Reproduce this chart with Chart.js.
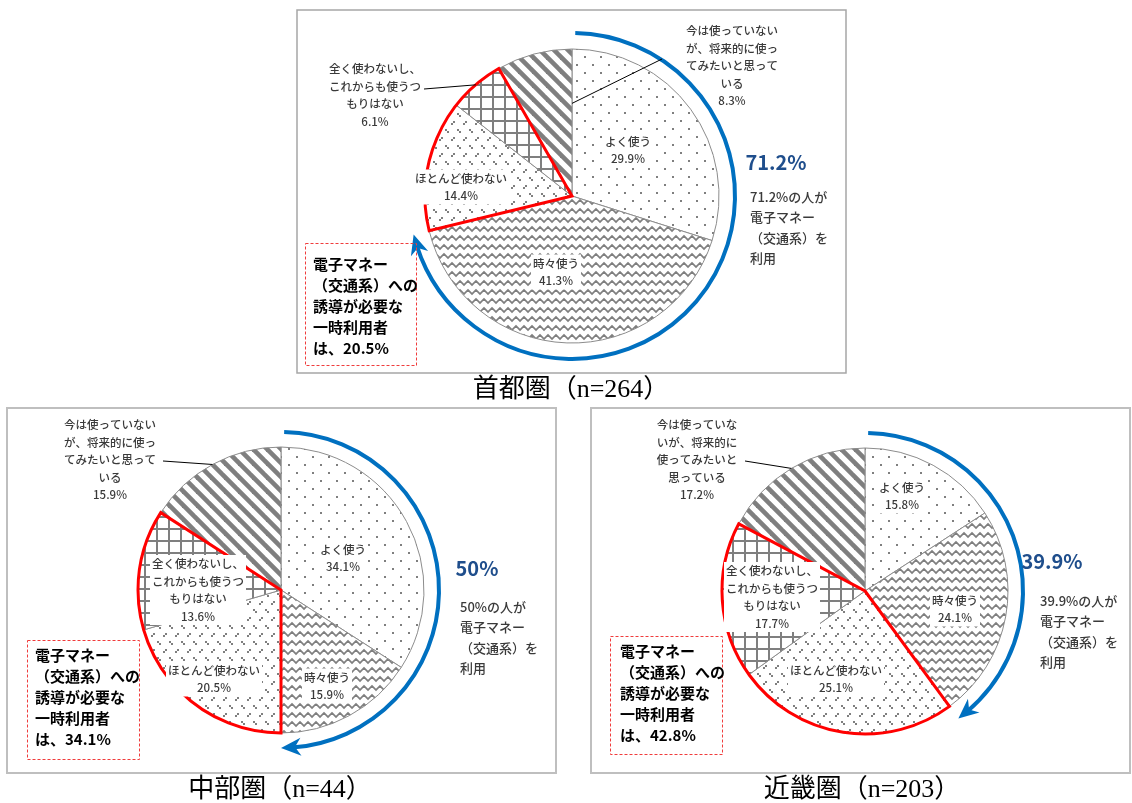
<!DOCTYPE html>
<html lang="ja">
<head>
<meta charset="utf-8">
<title>電子マネー（交通系）の利用状況</title>
<script src="https://cdn.jsdelivr.net/npm/chart.js@4.4.1/dist/chart.umd.min.js"></script>
<style>
  html, body { margin: 0; padding: 0; background: #ffffff; }
  #stage { position: relative; width: 1132px; height: 803px; overflow: hidden; }
  #stage canvas { position: absolute; left: 0; top: 0; width: 1132px; height: 803px; }
</style>
</head>
<body>
<div id="stage">
  <canvas id="pie-shutoken" width="1132" height="803"></canvas>
  <canvas id="pie-chubu" width="1132" height="803"></canvas>
  <canvas id="pie-kinki" width="1132" height="803"></canvas>
</div>
<script>
// Answer categories, clockwise from 12 o'clock
const categories = [
  'よく使う',
  '時々使う',
  'ほとんど使わない',
  '全く使わないし、これからも使うつもりはない',
  '今は使っていないが、将来的に使ってみたいと思っている'
];
// Regions and respondent counts
const regions = ['首都圏', '中部圏', '近畿圏'];
const sampleSizes = [264, 44, 203];
// Share of respondents (%) for each answer
const shutokenValues = [29.9, 41.3, 14.4, 6.1, 8.3];
const chubuValues = [34.1, 15.9, 20.5, 13.6, 15.9];
const kinkiValues = [15.8, 24.1, 25.1, 17.7, 17.2];

const W = 1132, H = 803;
const JP = "'Noto Sans CJK JP', 'Noto Sans', sans-serif";
const SERIF = "'Liberation Serif', 'DejaVu Serif', 'Noto Sans CJK JP', serif";
const LABEL_GRAY = '#3a3a3a';

// Page layout of each panel (positions only)
const panels = [
  {
    canvas: 'pie-shutoken', values: shutokenValues, region: 0,
    frame: [297, 10, 846, 373], frameColor: '#a6a6a6', frameWidth: 1.5, title: [571, 390],
    cx: 572, cy: 196, r: 147, ring: 163,
    wrapAt: [8, 8, 8, 8, 8],
    inside: { 0: [628, 150], 1: [556, 272], 2: [461, 187] },
    callouts: {
      3: { at: [375, 95], from: [424, 89], anchor: [0.5, 1.0] },
      4: { at: [732, 66], from: [662, 59], anchor: [1.0, 0.63] }
    },
    share: [776, 162], shareText: [750, 197],
    box: [305, 243, 416, 365], boxText: [313, 264]
  },
  {
    canvas: 'pie-chubu', values: chubuValues, region: 1,
    frame: [7, 408, 556, 773], frameColor: '#bfbfbf', frameWidth: 2, title: [280, 790],
    cx: 281, cy: 590, r: 143, ring: 158,
    wrapAt: [8, 8, 8, 8, 8],
    inside: { 0: [343, 558], 1: [327, 686], 2: [214, 679], 3: [198, 590] },
    callouts: {
      4: { at: [110, 460], from: [163, 461], anchor: [0.5, 1.0] }
    },
    share: [477, 568], shareText: [460, 607],
    box: [27, 640, 139, 759], boxText: [35, 655]
  },
  {
    canvas: 'pie-kinki', values: kinkiValues, region: 2,
    frame: [591, 408, 1130, 773], frameColor: '#bfbfbf', frameWidth: 2, title: [862, 790],
    cx: 865, cy: 591, r: 143, ring: 158,
    wrapAt: [8, 8, 8, 8, 7],
    inside: { 0: [902, 496], 1: [955, 609], 2: [836, 679], 3: [772, 597] },
    callouts: {
      4: { at: [697, 460], from: [745, 461], anchor: [0.5, 1.0] }
    },
    share: [1052, 561], shareText: [1040, 601],
    box: [610, 636, 722, 754], boxText: [620, 651]
  }
];

// Gray-on-white hatch fills, one per answer
function tile(w, h, paint) {
  const c = document.createElement('canvas');
  c.width = w; c.height = h;
  const g = c.getContext('2d');
  g.fillStyle = '#ffffff';
  g.fillRect(0, 0, w, h);
  g.fillStyle = '#7f7f7f';
  g.strokeStyle = '#7f7f7f';
  paint(g);
  return g.createPattern(c, 'repeat');
}
const fills = [
  // sparse dots
  tile(16, 16, g => { g.fillRect(0, 0, 2, 2); g.fillRect(8, 8, 2, 2); }),
  // zigzag
  tile(8, 9, g => {
    g.lineWidth = 1.7;
    g.beginPath();
    g.moveTo(-4, 2); g.lineTo(0, 6); g.lineTo(4, 2); g.lineTo(8, 6); g.lineTo(12, 2);
    g.stroke();
  }),
  // dotted diamonds
  tile(12, 16, g => {
    g.fillRect(1, 1, 2, 2); g.fillRect(3, 3, 2, 2);
    g.fillRect(9, 9, 2, 2); g.fillRect(7, 11, 2, 2);
  }),
  // square grid
  tile(12, 12, g => { g.fillRect(0, 0, 12, 2); g.fillRect(0, 0, 2, 12); }),
  // wide downward diagonal stripes
  tile(14, 14, g => {
    g.lineWidth = 4.6;
    for (const o of [-14, 0, 14]) {
      g.beginPath(); g.moveTo(o - 3, -3); g.lineTo(o + 17, 17); g.stroke();
    }
  })
];

function wrap(text, n) {
  const out = [];
  for (let i = 0; i < text.length; i += n) out.push(text.slice(i, i + n));
  return out;
}
function pct(v) { return String(parseFloat(v.toFixed(1))); }

function drawBlock(ctx, lines, x, y, lh, clearBehind) {
  const top = y - (lines.length - 1) * lh / 2;
  if (clearBehind) {
    const w = Math.max(...lines.map(s => ctx.measureText(s).width));
    ctx.save();
    ctx.fillStyle = '#ffffff';
    ctx.fillRect(x - w / 2 - 2, top - lh / 2, w + 4, lh * lines.length);
    ctx.restore();
  }
  lines.forEach((s, i) => ctx.fillText(s, x, top + i * lh));
}

function makeDecor(P) {
  return {
    id: 'decor',
    beforeDatasetsDraw(chart) {
      const ctx = chart.ctx;
      const [x0, y0, x1, y1] = P.frame;
      ctx.save();
      ctx.strokeStyle = P.frameColor;
      ctx.lineWidth = P.frameWidth;
      ctx.strokeRect(x0, y0, x1 - x0, y1 - y0);
      ctx.fillStyle = '#000000';
      ctx.font = `26px ${SERIF}`;
      ctx.textAlign = 'center';
      ctx.textBaseline = 'middle';
      ctx.fillText(`${regions[P.region]}（n=${sampleSizes[P.region]}）`, P.title[0], P.title[1]);
      ctx.restore();
    },
    afterDatasetsDraw(chart) {
      const ctx = chart.ctx;
      const arcs = chart.getDatasetMeta(0).data;
      const vals = P.values;
      const cx = arcs[0].x, cy = arcs[0].y, R = arcs[0].outerRadius;
      ctx.save();

      // red outline around the two "rarely / never" slices
      ctx.strokeStyle = '#ff0000';
      ctx.lineWidth = 3;
      ctx.lineJoin = 'miter';
      ctx.beginPath();
      ctx.moveTo(cx, cy);
      ctx.arc(cx, cy, R, arcs[2].startAngle, arcs[3].endAngle);
      ctx.closePath();
      ctx.stroke();

      // blue arrow spanning the "often / sometimes" slices
      const Rb = P.ring;
      const a0 = arcs[0].startAngle + 0.02;
      const a1 = arcs[1].endAngle;
      const headLen = 20, headW = 9;
      ctx.strokeStyle = '#0070c0';
      ctx.fillStyle = '#0070c0';
      ctx.lineWidth = 4;
      ctx.lineCap = 'butt';
      ctx.beginPath();
      ctx.arc(cx, cy, Rb, a0, a1 - headLen * 0.55 / Rb);
      ctx.stroke();
      const tip = [cx + Rb * Math.cos(a1), cy + Rb * Math.sin(a1)];
      const ab = a1 - headLen / Rb;
      const bp = [cx + Rb * Math.cos(ab), cy + Rb * Math.sin(ab)];
      let dx = tip[0] - bp[0], dy = tip[1] - bp[1];
      const dl = Math.hypot(dx, dy); dx /= dl; dy /= dl;
      const base = [tip[0] - headLen * dx, tip[1] - headLen * dy];
      const notch = [tip[0] - headLen * 0.7 * dx, tip[1] - headLen * 0.7 * dy];
      ctx.beginPath();
      ctx.moveTo(tip[0], tip[1]);
      ctx.lineTo(base[0] - headW * dy, base[1] + headW * dx);
      ctx.lineTo(notch[0], notch[1]);
      ctx.lineTo(base[0] + headW * dy, base[1] - headW * dx);
      ctx.closePath();
      ctx.fill();

      // slice labels
      ctx.fillStyle = LABEL_GRAY;
      ctx.font = `500 11.5px ${JP}`;
      ctx.textAlign = 'center';
      ctx.textBaseline = 'middle';
      const lh = 17.5;
      const linesFor = i => wrap(categories[i], P.wrapAt[i]).concat([vals[i].toFixed(1) + '%']);
      for (const k of Object.keys(P.inside)) {
        const i = +k;
        drawBlock(ctx, linesFor(i), P.inside[i][0], P.inside[i][1], lh, true);
      }
      for (const k of Object.keys(P.callouts)) {
        const i = +k, c = P.callouts[i], a = arcs[i];
        const ang = a.startAngle + c.anchor[0] * (a.endAngle - a.startAngle);
        const rad = c.anchor[1] * R;
        ctx.save();
        ctx.strokeStyle = '#000000';
        ctx.lineWidth = 1;
        ctx.beginPath();
        ctx.moveTo(c.from[0], c.from[1]);
        ctx.lineTo(cx + rad * Math.cos(ang), cy + rad * Math.sin(ang));
        ctx.stroke();
        ctx.restore();
        drawBlock(ctx, linesFor(i), c.at[0], c.at[1], lh, false);
      }

      // share of users (often + sometimes)
      const used = pct(vals[0] + vals[1]);
      ctx.fillStyle = '#1f4e8c';
      ctx.font = `bold 20px ${JP}`;
      ctx.fillText(used + '%', P.share[0], P.share[1]);
      ctx.fillStyle = LABEL_GRAY;
      ctx.font = `500 13px ${JP}`;
      ctx.textAlign = 'left';
      [used + '%の人が', '電子マネー', '（交通系）を', '利用'].forEach((s, j) =>
        ctx.fillText(s, P.shareText[0], P.shareText[1] + j * 20.5));

      // dashed note box: occasional users to be guided
      const [bx0, by0, bx1, by1] = P.box;
      ctx.strokeStyle = '#f03c3c';
      ctx.lineWidth = 1;
      ctx.setLineDash([3, 2]);
      ctx.strokeRect(bx0 + 0.5, by0 + 0.5, bx1 - bx0, by1 - by0);
      ctx.setLineDash([]);
      const target = pct(vals[2] + vals[3]);
      ctx.fillStyle = '#000000';
      ctx.font = `bold 15px ${JP}`;
      ['電子マネー', '（交通系）への', '誘導が必要な', '一時利用者', 'は、' + target + '%'].forEach((s, j) =>
        ctx.fillText(s, P.boxText[0], P.boxText[1] + j * 21));

      ctx.restore();
    }
  };
}

for (const P of panels) {
  const pad = {
    left: P.cx - P.r - 2,
    right: W - P.cx - P.r - 2,
    top: P.cy - P.r - 2,
    bottom: H - P.cy - P.r - 2
  };
  new Chart(document.getElementById(P.canvas), {
    type: 'pie',
    data: {
      labels: categories,
      datasets: [{
        data: P.values,
        backgroundColor: fills,
        borderColor: '#8c8c8c',
        borderWidth: 1,
        radius: P.r
      }]
    },
    options: {
      responsive: false,
      animation: false,
      devicePixelRatio: 1,
      events: [],
      layout: { padding: pad },
      plugins: { legend: { display: false }, tooltip: { enabled: false } }
    },
    plugins: [makeDecor(P)]
  });
}
</script>
</body>
</html>
